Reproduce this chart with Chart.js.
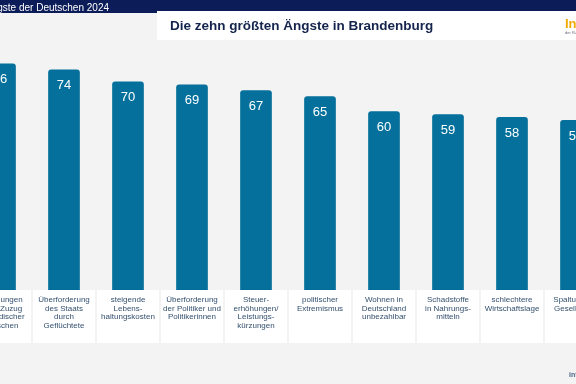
<!DOCTYPE html>
<html>
<head>
<meta charset="utf-8">
<script src="https://cdn.jsdelivr.net/npm/chart.js"></script>
<style>
  body { margin: 0; width: 576px; height: 384px; overflow: hidden; background: #f3f3f3; font-family: "Liberation Sans", Arial, sans-serif; position: relative; }
  #band { position: absolute; left: 0; top: 0; width: 576px; height: 11px; background: #0b1c59; }
  #bandLeft { position: absolute; left: 0; top: 0; width: 157px; height: 13px; background: #0b1c59; }
  #series { position: absolute; right: 467px; top: 2px; color: #fff; font-size: 10px; white-space: nowrap; }
  #titleBox { position: absolute; left: 157px; top: 11px; width: 419px; height: 29px; background: #fff; }
  #title { position: absolute; left: 170px; top: 18px; color: #14244d; font-size: 13.5px; font-weight: bold; white-space: nowrap; }
  #logo { position: absolute; left: 565px; top: 16px; color: #f2a900; font-size: 13px; font-weight: bold; white-space: nowrap; }
  #logoSub { position: absolute; left: 565px; top: 30px; color: #667; font-size: 4px; white-space: nowrap; }
  #foot { position: absolute; left: 569px; top: 371px; color: #4a6785; font-size: 7px; font-weight: bold; white-space: nowrap; }
  canvas { position: absolute; left: 0; top: 0; }
</style>
</head>
<body>
<canvas id="chart" width="576" height="384"></canvas>
<div id="band"></div>
<div id="bandLeft"></div>
<div id="series">Die größten Ängste der Deutschen 2024</div>
<div id="titleBox"></div>
<div id="title">Die zehn größten Ängste in Brandenburg</div>
<div id="logo">Infocenter</div>
<div id="logoSub">der R+V Versicherung</div>
<div id="foot">infocenter</div>
<script>
// Categories (label lines) and values in percent
var categories = [
    ['Spannungen', 'durch Zuzug', 'ausländischer', 'Menschen'],
    ['Überforderung', 'des Staats', 'durch', 'Geflüchtete'],
    ['steigende', 'Lebens-', 'haltungskosten'],
    ['Überforderung', 'der Politiker und', 'Politikerinnen'],
    ['Steuer-', 'erhöhungen/', 'Leistungs-', 'kürzungen'],
    ['politischer', 'Extremismus'],
    ['Wohnen in', 'Deutschland', 'unbezahlbar'],
    ['Schadstoffe', 'in Nahrungs-', 'mitteln'],
    ['schlechtere', 'Wirtschaftslage'],
    ['Spaltung der', 'Gesellschaft']
];
var values = [76, 74, 70, 69, 67, 65, 60, 59, 58, 57];

var barColor = '#04709b';

// white label boxes under the bars and the value labels inside them
var labelBoxes = {
    id: 'labelBoxes',
    beforeDatasetsDraw: function (chart) {
        var ctx = chart.ctx;
        var xs = chart.scales.x;
        var base = chart.chartArea.bottom;
        ctx.save();
        for (var i = 0; i < categories.length; i++) {
            var px = xs.getPixelForValue(i);
            ctx.fillStyle = '#ffffff';
            ctx.fillRect(px - 31, base, 62, 53);
            ctx.fillStyle = '#34506e';
            ctx.font = '8px "Liberation Sans", Arial, sans-serif';
            ctx.textAlign = 'center';
            ctx.textBaseline = 'middle';
            var lines = categories[i];
            for (var j = 0; j < lines.length; j++) {
                ctx.fillText(lines[j], px, base + 9.5 + j * 8.8);
            }
        }
        ctx.restore();
    },
    afterDatasetsDraw: function (chart) {
        var ctx = chart.ctx;
        var meta = chart.getDatasetMeta(0);
        ctx.save();
        ctx.fillStyle = '#ffffff';
        ctx.font = '13px "Liberation Sans", Arial, sans-serif';
        ctx.textAlign = 'center';
        ctx.textBaseline = 'middle';
        for (var i = 0; i < meta.data.length; i++) {
            var bar = meta.data[i];
            ctx.fillText(values[i], bar.x, bar.y + 15.5);
        }
        ctx.restore();
    }
};

var ctx = document.getElementById('chart').getContext('2d');
var chart = new Chart(ctx, {
    type: 'bar',
    data: {
        labels: categories,
        datasets: [{
            data: values,
            backgroundColor: barColor,
            barThickness: 31,
            borderRadius: 3,
            borderSkipped: 'bottom'
        }]
    },
    options: {
        responsive: false,
        animation: false,
        devicePixelRatio: 1,
        layout: { padding: { top: 52, bottom: 94, left: 0, right: 0 } },
        plugins: {
            legend: { display: false },
            tooltip: { enabled: false }
        },
        scales: {
            x: { type: 'category', offset: false, display: false },
            y: { min: 0, max: 80, display: false }
        }
    },
    plugins: [labelBoxes]
});
</script>
</body>
</html>
